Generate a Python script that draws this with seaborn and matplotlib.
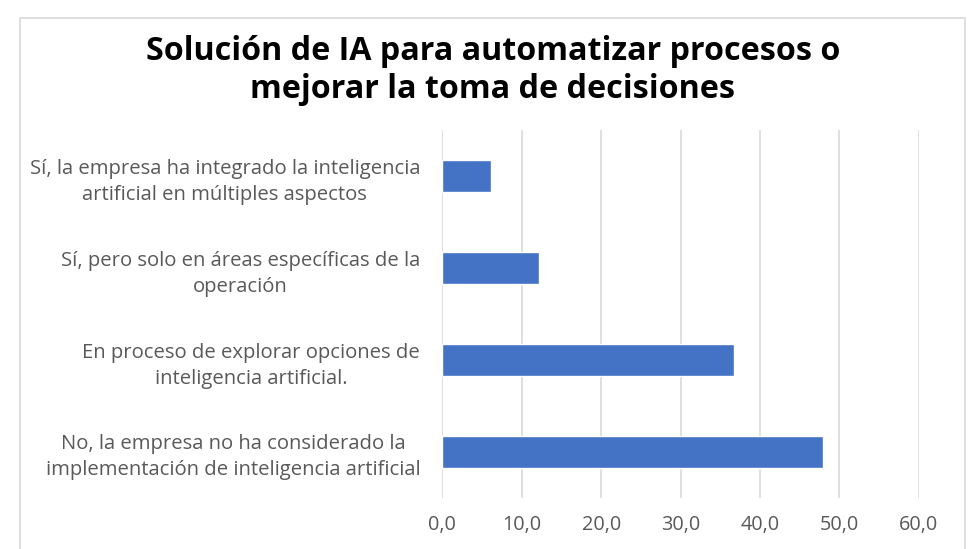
import matplotlib
matplotlib.use("Agg")
import matplotlib.pyplot as plt
import seaborn as sns
import pandas as pd
from matplotlib.ticker import FuncFormatter, MultipleLocator
from matplotlib.patches import Rectangle

categories = [
    "Sí, la empresa ha integrado la inteligencia\nartificial en múltiples aspectos",
    "Sí, pero solo en áreas específicas de la\noperación",
    "En proceso de explorar opciones de\ninteligencia artificial.",
    "No, la empresa no ha considerado la\nimplementación de inteligencia artificial",
]
values = [6.1, 12.2, 36.7, 48.0]
title = "Solución de IA para automatizar procesos o\nmejorar la toma de decisiones"

df = pd.DataFrame({"cat": categories, "val": values})

sns.set_theme(style="white")
plt.rcParams["font.family"] = ["Open Sans", "DejaVu Sans"]

fig = plt.figure(figsize=(9.68, 5.49), dpi=100)
ax = fig.add_axes([0.457, 0.093, 0.492, 0.670])

sns.barplot(data=df, x="val", y="cat", orient="h", color="#4472C4",
            saturation=1, width=0.35, ax=ax)

ax.set_xlim(0, 60)
ax.xaxis.set_major_locator(MultipleLocator(10))
ax.xaxis.set_major_formatter(FuncFormatter(lambda v, p: f"{v:.1f}".replace(".", ",")))
ax.grid(axis="x", color="#d9d9d9", linewidth=1.2)
ax.set_axisbelow(True)
for s in ax.spines.values():
    s.set_visible(False)
ax.set_xlabel("")
ax.set_ylabel("")
ax.tick_params(axis="x", length=0, pad=12, labelsize=14.3, labelcolor="#595959")
ax.tick_params(axis="y", length=0, pad=16, labelsize=14.6, labelcolor="#595959")
for lab in ax.get_yticklabels():
    lab.set_multialignment("center")
    lab.set_linespacing(1.4)

fig.text(0.509, 0.871, title, ha="center", va="center", fontsize=23.2,
         fontweight="bold", color="black", linespacing=1.2)

fig.patches.append(Rectangle((20 / 968, -0.05), (965 - 20) / 968, 1 - 18 / 549 + 0.05,
                             transform=fig.transFigure, fill=False,
                             edgecolor="#d9d9d9", linewidth=1.2))

fig.savefig("out.png", dpi=100, facecolor="white")
